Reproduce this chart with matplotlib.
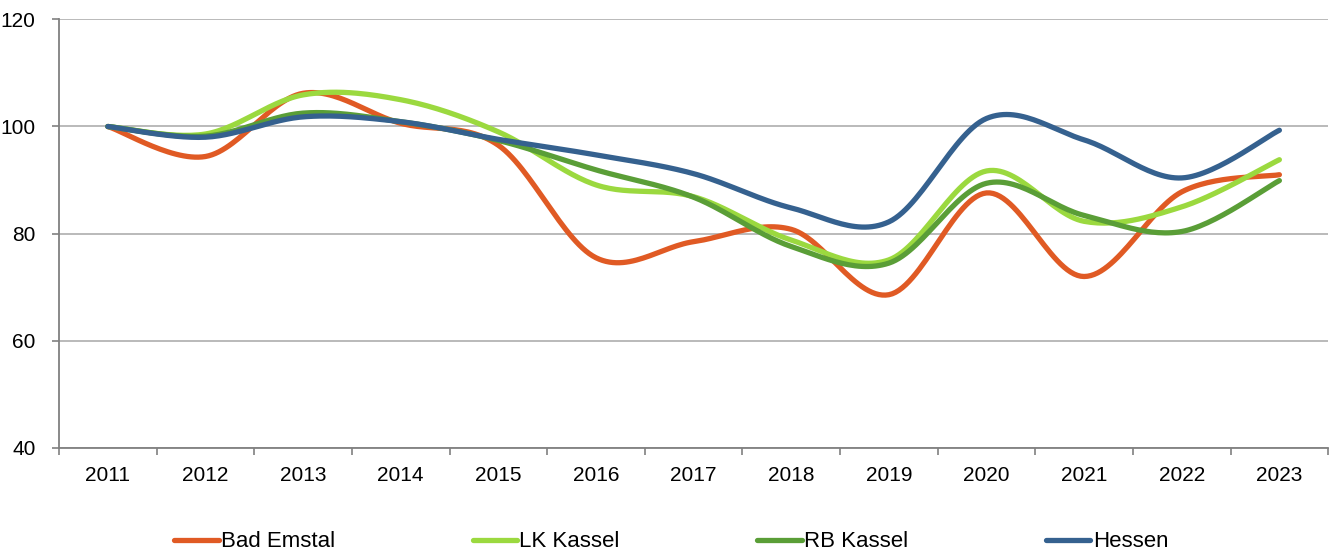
import matplotlib.pyplot as plt
import numpy as np

years = [str(y) for y in range(2011, 2024)]

bad_emstal = [100, 94.4, 106.2, 100.6, 96.5, 75.5, 78.5, 80.8, 68.6, 87.6, 72.0, 87.8, 91.0]
lk_kassel = [100, 98.6, 105.9, 105.0, 99.0, 89.1, 86.9, 78.8, 75.1, 91.7, 82.3, 85.0, 93.8]
rb_kassel = [100, 98.2, 102.5, 100.9, 97.4, 91.9, 86.8, 77.6, 74.5, 89.4, 83.4, 80.4, 89.9]
hessen = [100, 98.0, 101.8, 100.9, 97.6, 94.7, 91.2, 84.8, 82.2, 101.5, 97.5, 90.4, 99.3]

series = [
    ("Bad Emstal", bad_emstal, "#E05A24"),
    ("LK Kassel", lk_kassel, "#9BD93F"),
    ("RB Kassel", rb_kassel, "#5A9E37"),
    ("Hessen", hessen, "#35618F"),
]

plt.rcParams['font.family'] = ['Liberation Sans', 'DejaVu Sans']


def smooth(x, y, n=30):
    # Excel-artige Glättung (Catmull-Rom als Bezier)
    x = np.asarray(x, float)
    y = np.asarray(y, float)
    px, py = [], []
    for i in range(len(x) - 1):
        i0 = max(i - 1, 0)
        i3 = min(i + 2, len(x) - 1)
        c1x = x[i] + (x[i + 1] - x[i0]) / 6
        c1y = y[i] + (y[i + 1] - y[i0]) / 6
        c2x = x[i + 1] - (x[i3] - x[i]) / 6
        c2y = y[i + 1] - (y[i3] - y[i]) / 6
        t = np.linspace(0, 1, n)
        bx = (1 - t) ** 3 * x[i] + 3 * (1 - t) ** 2 * t * c1x + 3 * (1 - t) * t ** 2 * c2x + t ** 3 * x[i + 1]
        by = (1 - t) ** 3 * y[i] + 3 * (1 - t) ** 2 * t * c1y + 3 * (1 - t) * t ** 2 * c2y + t ** 3 * y[i + 1]
        px.extend(bx)
        py.extend(by)
    return px, py


fig = plt.figure(figsize=(13.29, 5.53), dpi=100)
ax = fig.add_axes([0.0444, 0.19, 0.955, 0.775])

x = np.arange(len(years))
for name, vals, color in series:
    sx, sy = smooth(x, vals)
    ax.plot(sx, sy, color=color, lw=3.8, solid_capstyle='round', label=name)

ax.set_xlim(-0.5, len(years) - 0.5)
ax.set_ylim(40, 120)
ax.set_yticks([40, 60, 80, 100, 120])
ax.set_xticks(x)
ax.set_xticklabels(years)
ax.set_xticks(np.arange(-0.5, len(years)), minor=True)
ax.tick_params(axis='x', which='major', length=0, pad=13, labelsize=15)
ax.tick_params(axis='x', which='minor', length=5, color='#808080', width=1.2)
ax.tick_params(axis='y', length=5, color='#808080', width=1.2, labelsize=15, pad=12)
ax.grid(axis='y', color='#B4B4B4', lw=1.3)
ax.set_axisbelow(True)
for s in ['top', 'right']:
    ax.spines[s].set_visible(False)
for s in ['left', 'bottom']:
    ax.spines[s].set_color('#808080')
    ax.spines[s].set_linewidth(1.3)

leg = fig.legend(loc='lower center', bbox_to_anchor=(0.505, -0.035), ncol=4, frameon=False,
                 fontsize=16, handlelength=2.0, handletextpad=0.1, columnspacing=6.2)

fig.savefig("out.png", dpi=100)
